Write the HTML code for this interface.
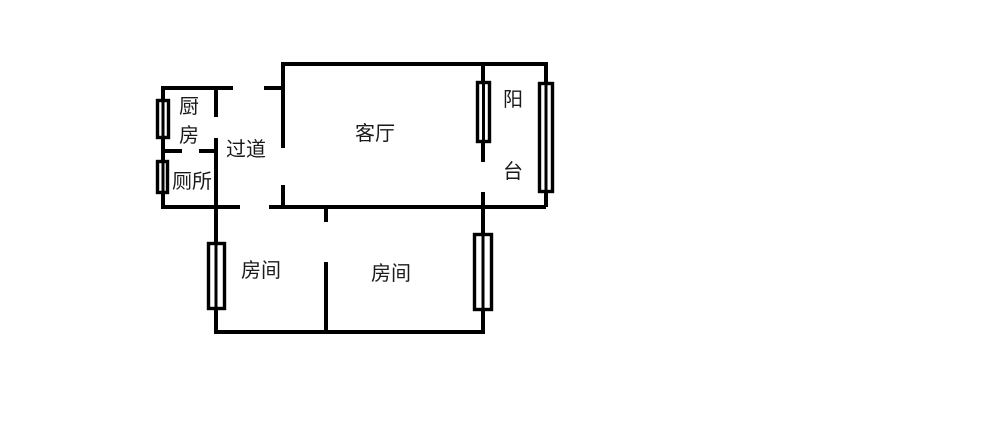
<!DOCTYPE html>
<html lang="zh">
<head>
<meta charset="utf-8">
<style>
html,body{margin:0;padding:0;background:#fff;width:1000px;height:444px;overflow:hidden}
svg{display:block}
text{font-family:"Liberation Sans","Noto Sans CJK SC",sans-serif;font-size:20px;fill:#1a1a1a;text-anchor:middle}
.w{stroke:#000;stroke-width:4;fill:none}
.win{stroke:#000;stroke-width:3.4;fill:#fff}
</style>
</head>
<body>
<svg width="1000" height="444" viewBox="0 0 1000 444" xmlns="http://www.w3.org/2000/svg">
<rect width="1000" height="444" fill="#fff"/>
<!-- walls -->
<path class="w" d="M161 88H233M264 88H283M283 148V64H546V207M216 88V117M216 138V332M163 88V207M163 151H182M199 151H216M161 207H240M269 207H546M283 185V207M483 64V162M483 192V332M214 332H485M326 207V222M326 262V332"/>
<!-- windows -->
<rect class="win" x="157.500" y="100.500" width="11" height="37"/>
<line class="w" x1="163" y1="100" x2="163" y2="138" style="stroke-width:3"/>
<rect class="win" x="157.500" y="161.500" width="10" height="31"/>
<line class="w" x1="163" y1="161" x2="163" y2="193" style="stroke-width:3"/>
<rect class="win" x="477.500" y="82.500" width="12" height="59"/>
<line class="w" x1="483.500" y1="82" x2="483.500" y2="142" style="stroke-width:3"/>
<rect class="win" x="539.500" y="83.500" width="13" height="108"/>
<line class="w" x1="546" y1="83" x2="546" y2="192" style="stroke-width:3"/>
<rect class="win" x="208.500" y="243.500" width="16" height="65"/>
<line class="w" x1="216" y1="243" x2="216" y2="309" style="stroke-width:3"/>
<rect class="win" x="474.500" y="234.500" width="17" height="75"/>
<line class="w" x1="483" y1="234" x2="483" y2="310" style="stroke-width:3"/>
<!-- labels -->
<text x="189" y="113">厨</text>
<text x="189" y="142">房</text>
<text x="246" y="156">过道</text>
<text x="192" y="188">厕所</text>
<text x="375" y="140">客厅</text>
<text x="513" y="106">阳</text>
<text x="513" y="178">台</text>
<text x="261" y="277">房间</text>
<text x="391" y="280">房间</text>
</svg>
</body>
</html>
